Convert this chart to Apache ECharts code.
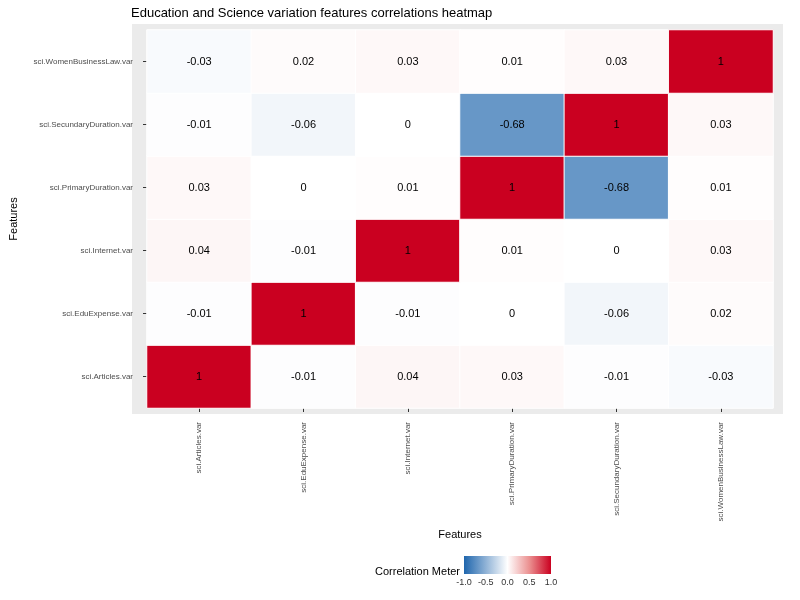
<!DOCTYPE html>
<html>
<head>
<meta charset="utf-8">
<script src="https://cdn.jsdelivr.net/npm/echarts@6/dist/echarts.min.js"></script>
<style>html,body{margin:0;padding:0;background:#fff}#main{width:800px;height:600px}</style>
</head>
<body>
<div id="main"></div>
<script>
var features = ['sci.Articles.var', 'sci.EduExpense.var', 'sci.Internet.var',
	'sci.PrimaryDuration.var', 'sci.SecundaryDuration.var', 'sci.WomenBusinessLaw.var'];
// rows from bottom to top, columns in feature order
var rowArticles = [1, -0.01, 0.04, 0.03, -0.01, -0.03];
var rowEduExpense = [-0.01, 1, -0.01, 0, -0.06, 0.02];
var rowInternet = [0.04, -0.01, 1, 0.01, 0, 0.03];
var rowPrimary = [0.03, 0, 0.01, 1, -0.68, 0.01];
var rowSecundary = [-0.01, -0.06, 0, -0.68, 1, 0.03];
var rowWomen = [-0.03, 0.02, 0.03, 0.01, 0.03, 1];
var legendTicks = ['-1.0', '-0.5', '0.0', '0.5', '1.0'];

var rows = [rowArticles, rowEduExpense, rowInternet, rowPrimary, rowSecundary, rowWomen];
var data = [];
for (var r = 0; r < rows.length; r++) {
	for (var c = 0; c < rows[r].length; c++) {
		data.push([c, r, rows[r][c]]);
	}
}
var colors = ['#1f66ad', '#8fb2d6', '#ffffff', '#eb9191', '#ca0020'];

var chart = echarts.init(document.getElementById('main'));
var graphics = [
	{type: 'rect', z: -1, shape: {x: 132, y: 24, width: 651, height: 390}, style: {fill: '#ebebeb'}},
	{type: 'rect', shape: {x: 464, y: 556, width: 87, height: 18},
		style: {fill: new echarts.graphic.LinearGradient(0, 0, 1, 0, colors.map(function (col, i) {
			return {offset: i / (colors.length - 1), color: col};
		}))}},
	{type: 'text', left: 375, top: 566, style: {text: 'Correlation Meter', font: '11px sans-serif', fill: '#000'}}
];
legendTicks.forEach(function (t, i) {
	graphics.push({type: 'text', x: 464 + i * 87 / 4, y: 578,
		style: {text: t, font: '9px sans-serif', fill: '#333', textAlign: 'center'}});
});

option = {
	title: {text: 'Education and Science variation features correlations heatmap', left: 126, top: 2,
		textStyle: {fontSize: 13, fontWeight: 'normal', color: '#000'}},
	grid: {left: 142, right: 27, top: 30, bottom: 192},
	xAxis: {
		type: 'category', data: features, name: 'Features', nameLocation: 'middle', nameGap: 120,
		nameTextStyle: {fontSize: 11, color: '#000'},
		axisLine: {show: false}, axisTick: {show: true, alignWithLabel: true, length: 4, lineStyle: {color: '#333'}},
		axisLabel: {rotate: 90, fontSize: 8, color: '#4d4d4d', margin: 14}
	},
	yAxis: {
		type: 'category', data: features, name: 'Features', nameLocation: 'middle', nameGap: 128,
		nameTextStyle: {fontSize: 11, color: '#000'},
		axisLine: {show: false}, axisTick: {show: true, alignWithLabel: true, length: 4, lineStyle: {color: '#333'}},
		axisLabel: {fontSize: 8, color: '#4d4d4d', margin: 14}
	},
	visualMap: {show: false, min: -1, max: 1, calculable: false, inRange: {color: colors}},
	graphic: graphics,
	series: [{
		type: 'heatmap', data: data,
		itemStyle: {borderColor: '#ffffff', borderWidth: 1},
		label: {show: true, fontSize: 11, color: '#000'}
	}]
};
chart.setOption(option);
</script>
</body>
</html>
